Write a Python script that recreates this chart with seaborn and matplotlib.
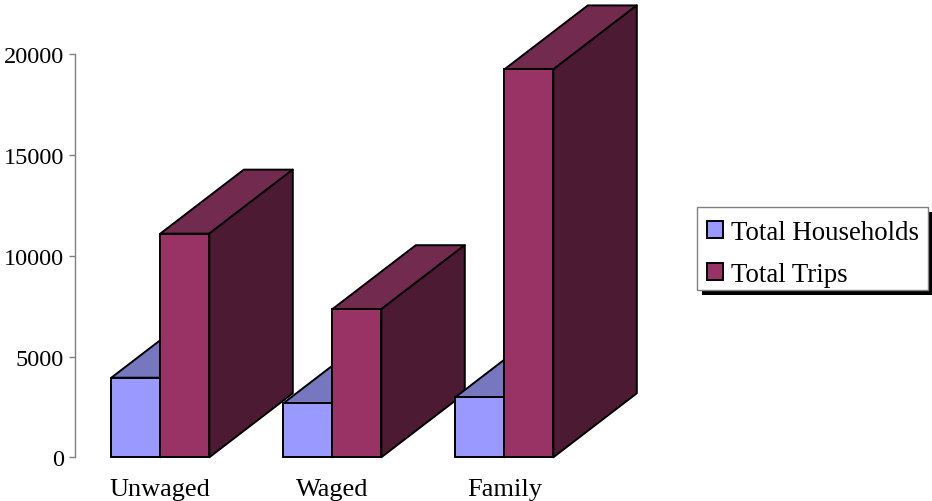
import matplotlib
matplotlib.use("Agg")
import matplotlib.pyplot as plt
from matplotlib.patches import Polygon, Rectangle
import pandas as pd
import seaborn as sns

categories = ["Unwaged", "Waged", "Family"]
series_names = ["Total Households", "Total Trips"]
households = [3950, 2680, 2980]
trips = [11100, 7350, 19250]
y_ticks = [0, 5000, 10000, 15000, 20000]

front_colors = ["#9999FF", "#993366"]
top_colors = ["#7777BF", "#732A4F"]
side_colors = ["#4D1A33", "#4D1A33"]

W, H = 932, 502
sns.set_style("white")
plt.rcParams["font.family"] = ["Liberation Serif", "DejaVu Serif"]
plt.rcParams["text.color"] = "black"

df = pd.DataFrame({
    "category": categories * 2,
    "series": [series_names[0]] * 3 + [series_names[1]] * 3,
    "value": households + trips,
})

fig = plt.figure(figsize=(W / 100, H / 100), dpi=100, facecolor="white")
ax_left, ax_right, ax_bottom_px = 74.6, 640, 458.3
ax = fig.add_axes([ax_left / W, (H - ax_bottom_px) / H,
                   (ax_right - ax_left) / W, ax_bottom_px / H])
px_per_cat = 172.0
px_per_val = 403 / 20000
lw = 1.4
sns.barplot(data=df, x="category", y="value", hue="series", order=categories,
            hue_order=series_names, palette=front_colors, width=98 / px_per_cat,
            gap=0, saturation=1, edgecolor="black", linewidth=lw, ax=ax)
ax.set_xlim(-(160.3 - ax_left) / px_per_cat, (ax_right - 160.3) / px_per_cat)
ax.set_ylim(0, ax_bottom_px / px_per_val)

dx = 83.5 / px_per_cat
dy = 64 / px_per_val
for s_idx, container in enumerate(ax.containers):
    for c_idx, bar in enumerate(container.patches):
        x0, x1 = bar.get_x(), bar.get_x() + bar.get_width()
        y1 = bar.get_height()
        z = 2 + c_idx * 3 + s_idx * 1.0
        top = Polygon([(x0, y1), (x1, y1), (x1 + dx, y1 + dy), (x0 + dx, y1 + dy)],
                      closed=True, facecolor=top_colors[s_idx], edgecolor="black",
                      linewidth=lw, joinstyle="round", zorder=z, clip_on=False)
        side = Polygon([(x1, 0), (x1, y1), (x1 + dx, y1 + dy), (x1 + dx, dy)],
                       closed=True, facecolor=side_colors[s_idx], edgecolor="black",
                       linewidth=lw, joinstyle="round", zorder=z, clip_on=False)
        ax.add_patch(top)
        ax.add_patch(side)
        bar.set_zorder(z + 0.5)
        bar.set_clip_on(False)

sns.despine(ax=ax, left=False, bottom=True, right=True, top=True)
ax.spines["left"].set_bounds(0, 20000)
ax.spines["left"].set_color("#808080")
ax.spines["left"].set_linewidth(1.0)
ax.set_yticks(y_ticks)
ax.set_yticklabels([str(t) for t in y_ticks])
ax.tick_params(axis="y", left=True, length=4.5, width=1.0, color="#808080",
               pad=3.2, labelsize=17.5, labelcolor="black")
ax.tick_params(axis="x", bottom=False, length=0, pad=15, labelsize=19, labelcolor="black")
ax.set_xlabel("")
ax.set_ylabel("")
ax.patch.set_alpha(0)

# Legend box and its hard shadow, in figure pixels
box_x, box_y, box_w, box_h, shadow = 697, 208, 231, 83, 5
fig.add_artist(Rectangle(((box_x + shadow) / W, 1 - (box_y + box_h + shadow) / H),
                         box_w / W, box_h / H, transform=fig.transFigure,
                         facecolor="black", edgecolor="none", zorder=40))
fig.add_artist(Rectangle((box_x / W, 1 - (box_y + box_h) / H), box_w / W, box_h / H,
                         transform=fig.transFigure, facecolor="white",
                         edgecolor="#808080", linewidth=1.0, zorder=41))

handles = ax.containers[0].patches[0], ax.containers[1].patches[0]
leg = ax.legend(handles, series_names, loc="upper left",
                bbox_to_anchor=(697 / W, 1 - 211 / H), bbox_transform=fig.transFigure,
                frameon=False, fontsize=19.4, borderpad=0.36, labelspacing=0.65,
                handlelength=0.6, handleheight=0.6, handletextpad=0.31,
                borderaxespad=0)
leg.set_zorder(50)
ax.set_zorder(60)

fig.savefig("out.png", dpi=100, facecolor="white")
